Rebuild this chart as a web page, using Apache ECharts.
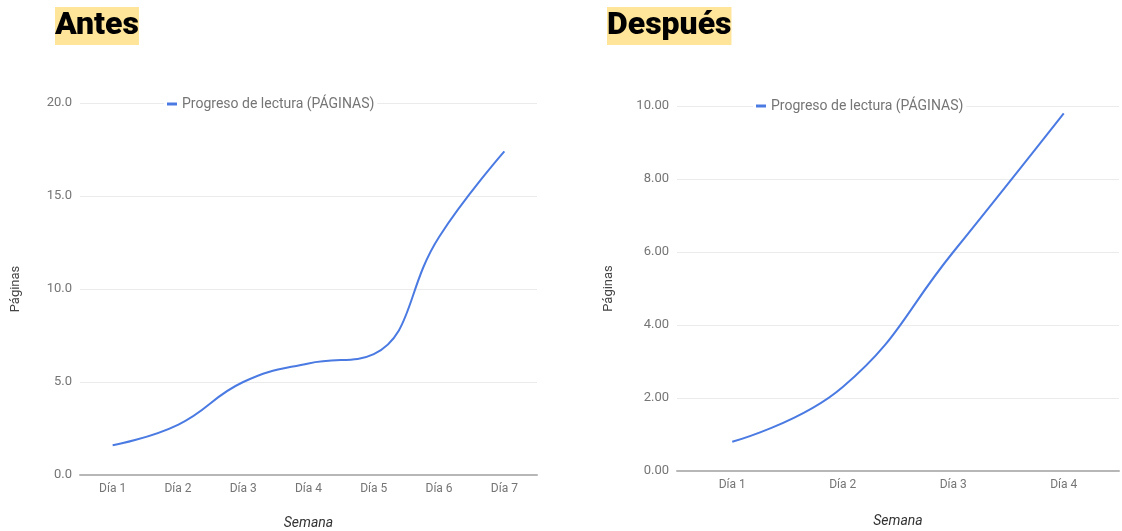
<!DOCTYPE html>
<html>
<head>
<meta charset="utf-8">
<script src="https://cdn.jsdelivr.net/npm/echarts@6/dist/echarts.min.js"></script>
<style>
html,body{margin:0;padding:0;background:#fff;}
#c{width:1122px;height:531px;}
</style>
</head>
<body>
<div id="c"></div>
<script>
// ---- data ----
const antesCategories = ['Día 1', 'Día 2', 'Día 3', 'Día 4', 'Día 5', 'Día 6', 'Día 7'];
const antesValues = [1.6, 2.7, 5.0, 6.0, 6.5, 12.8, 17.4];
const despuesCategories = ['Día 1', 'Día 2', 'Día 3', 'Día 4'];
const despuesValues = [0.8, 2.3, 6.0, 9.8];
const seriesName = 'Progreso de lectura (PÁGINAS)';
const titles = ['Antes', 'Después'];
const xAxisName = 'Semana';
const yAxisName = 'Páginas';

const FONT = 'Roboto, "Noto Sans", Arial, sans-serif';
const LINE = '#4a7ae2';
const LABEL = '#757575';

const chart = echarts.init(document.getElementById('c'), null, {renderer: 'canvas'});

function xAxisCfg(idx, cats, gap) {
  return {
    type: 'category', gridIndex: idx, data: cats, boundaryGap: true,
    axisTick: {show: false},
    axisLine: {show: true, lineStyle: {color: '#b7b7b7', width: 2}},
    axisLabel: {color: LABEL, fontSize: 12, fontFamily: FONT, margin: 8},
    name: xAxisName, nameLocation: 'middle', nameGap: gap,
    nameTextStyle: {color: '#333', fontSize: 14, fontStyle: 'italic', fontFamily: FONT}
  };
}
function yAxisCfg(idx, max, interval, dec, gap) {
  return {
    type: 'value', gridIndex: idx, min: 0, max: max, interval: interval,
    axisLine: {show: false}, axisTick: {show: false},
    splitLine: {lineStyle: {color: '#ebebeb', width: 1}},
    axisLabel: {color: LABEL, fontSize: 13, fontFamily: FONT, margin: 8,
      formatter: v => v.toFixed(dec)},
    name: yAxisName, nameLocation: 'middle', nameGap: gap, nameRotate: 90,
    nameTextStyle: {color: '#444', fontSize: 13, fontFamily: FONT}
  };
}

chart.setOption({
  animation: false,
  backgroundColor: '#fff',
  title: [
    {text: titles[0], left: 55, top: 7, backgroundColor: '#ffe599', padding: [3, 0, 3, 0],
     textStyle: {fontSize: 32, fontWeight: 900, color: '#000', fontFamily: FONT}},
    {text: titles[1], left: 607, top: 7, backgroundColor: '#ffe599', padding: [3, 0, 3, 0],
     textStyle: {fontSize: 32, fontWeight: 900, color: '#000', fontFamily: FONT}}
  ],
  legend: [
    {left: 164, top: 96, data: [seriesName], icon: 'rect', itemWidth: 10, itemHeight: 3,
     itemGap: 5, padding: [1, 3, 1, 3], backgroundColor: '#fff',
     textStyle: {color: LABEL, fontSize: 14, fontFamily: FONT}},
    {left: 753, top: 98, data: [seriesName + ' '], icon: 'rect', itemWidth: 10, itemHeight: 3,
     itemGap: 5, padding: [1, 3, 1, 3], backgroundColor: '#fff',
     textStyle: {color: LABEL, fontSize: 14, fontFamily: FONT},
     formatter: n => n.trim()}
  ],
  grid: [
    {left: 80, top: 103, width: 457, height: 372, containLabel: false, outerBoundsMode: 'none'},
    {left: 677, top: 106, width: 442, height: 365, containLabel: false, outerBoundsMode: 'none'}
  ],
  xAxis: [xAxisCfg(0, antesCategories, 41), xAxisCfg(1, despuesCategories, 43)],
  yAxis: [yAxisCfg(0, 20, 5, 1, 58), yAxisCfg(1, 10, 2, 2, 62)],
  series: [
    {name: seriesName, type: 'line', xAxisIndex: 0, yAxisIndex: 0, data: antesValues,
     smooth: 0.45, showSymbol: false, lineStyle: {color: LINE, width: 2}, itemStyle: {color: LINE}},
    {name: seriesName + ' ', type: 'line', xAxisIndex: 1, yAxisIndex: 1, data: despuesValues,
     smooth: 0.45, showSymbol: false, lineStyle: {color: LINE, width: 2}, itemStyle: {color: LINE}}
  ]
});
</script>
</body>
</html>
